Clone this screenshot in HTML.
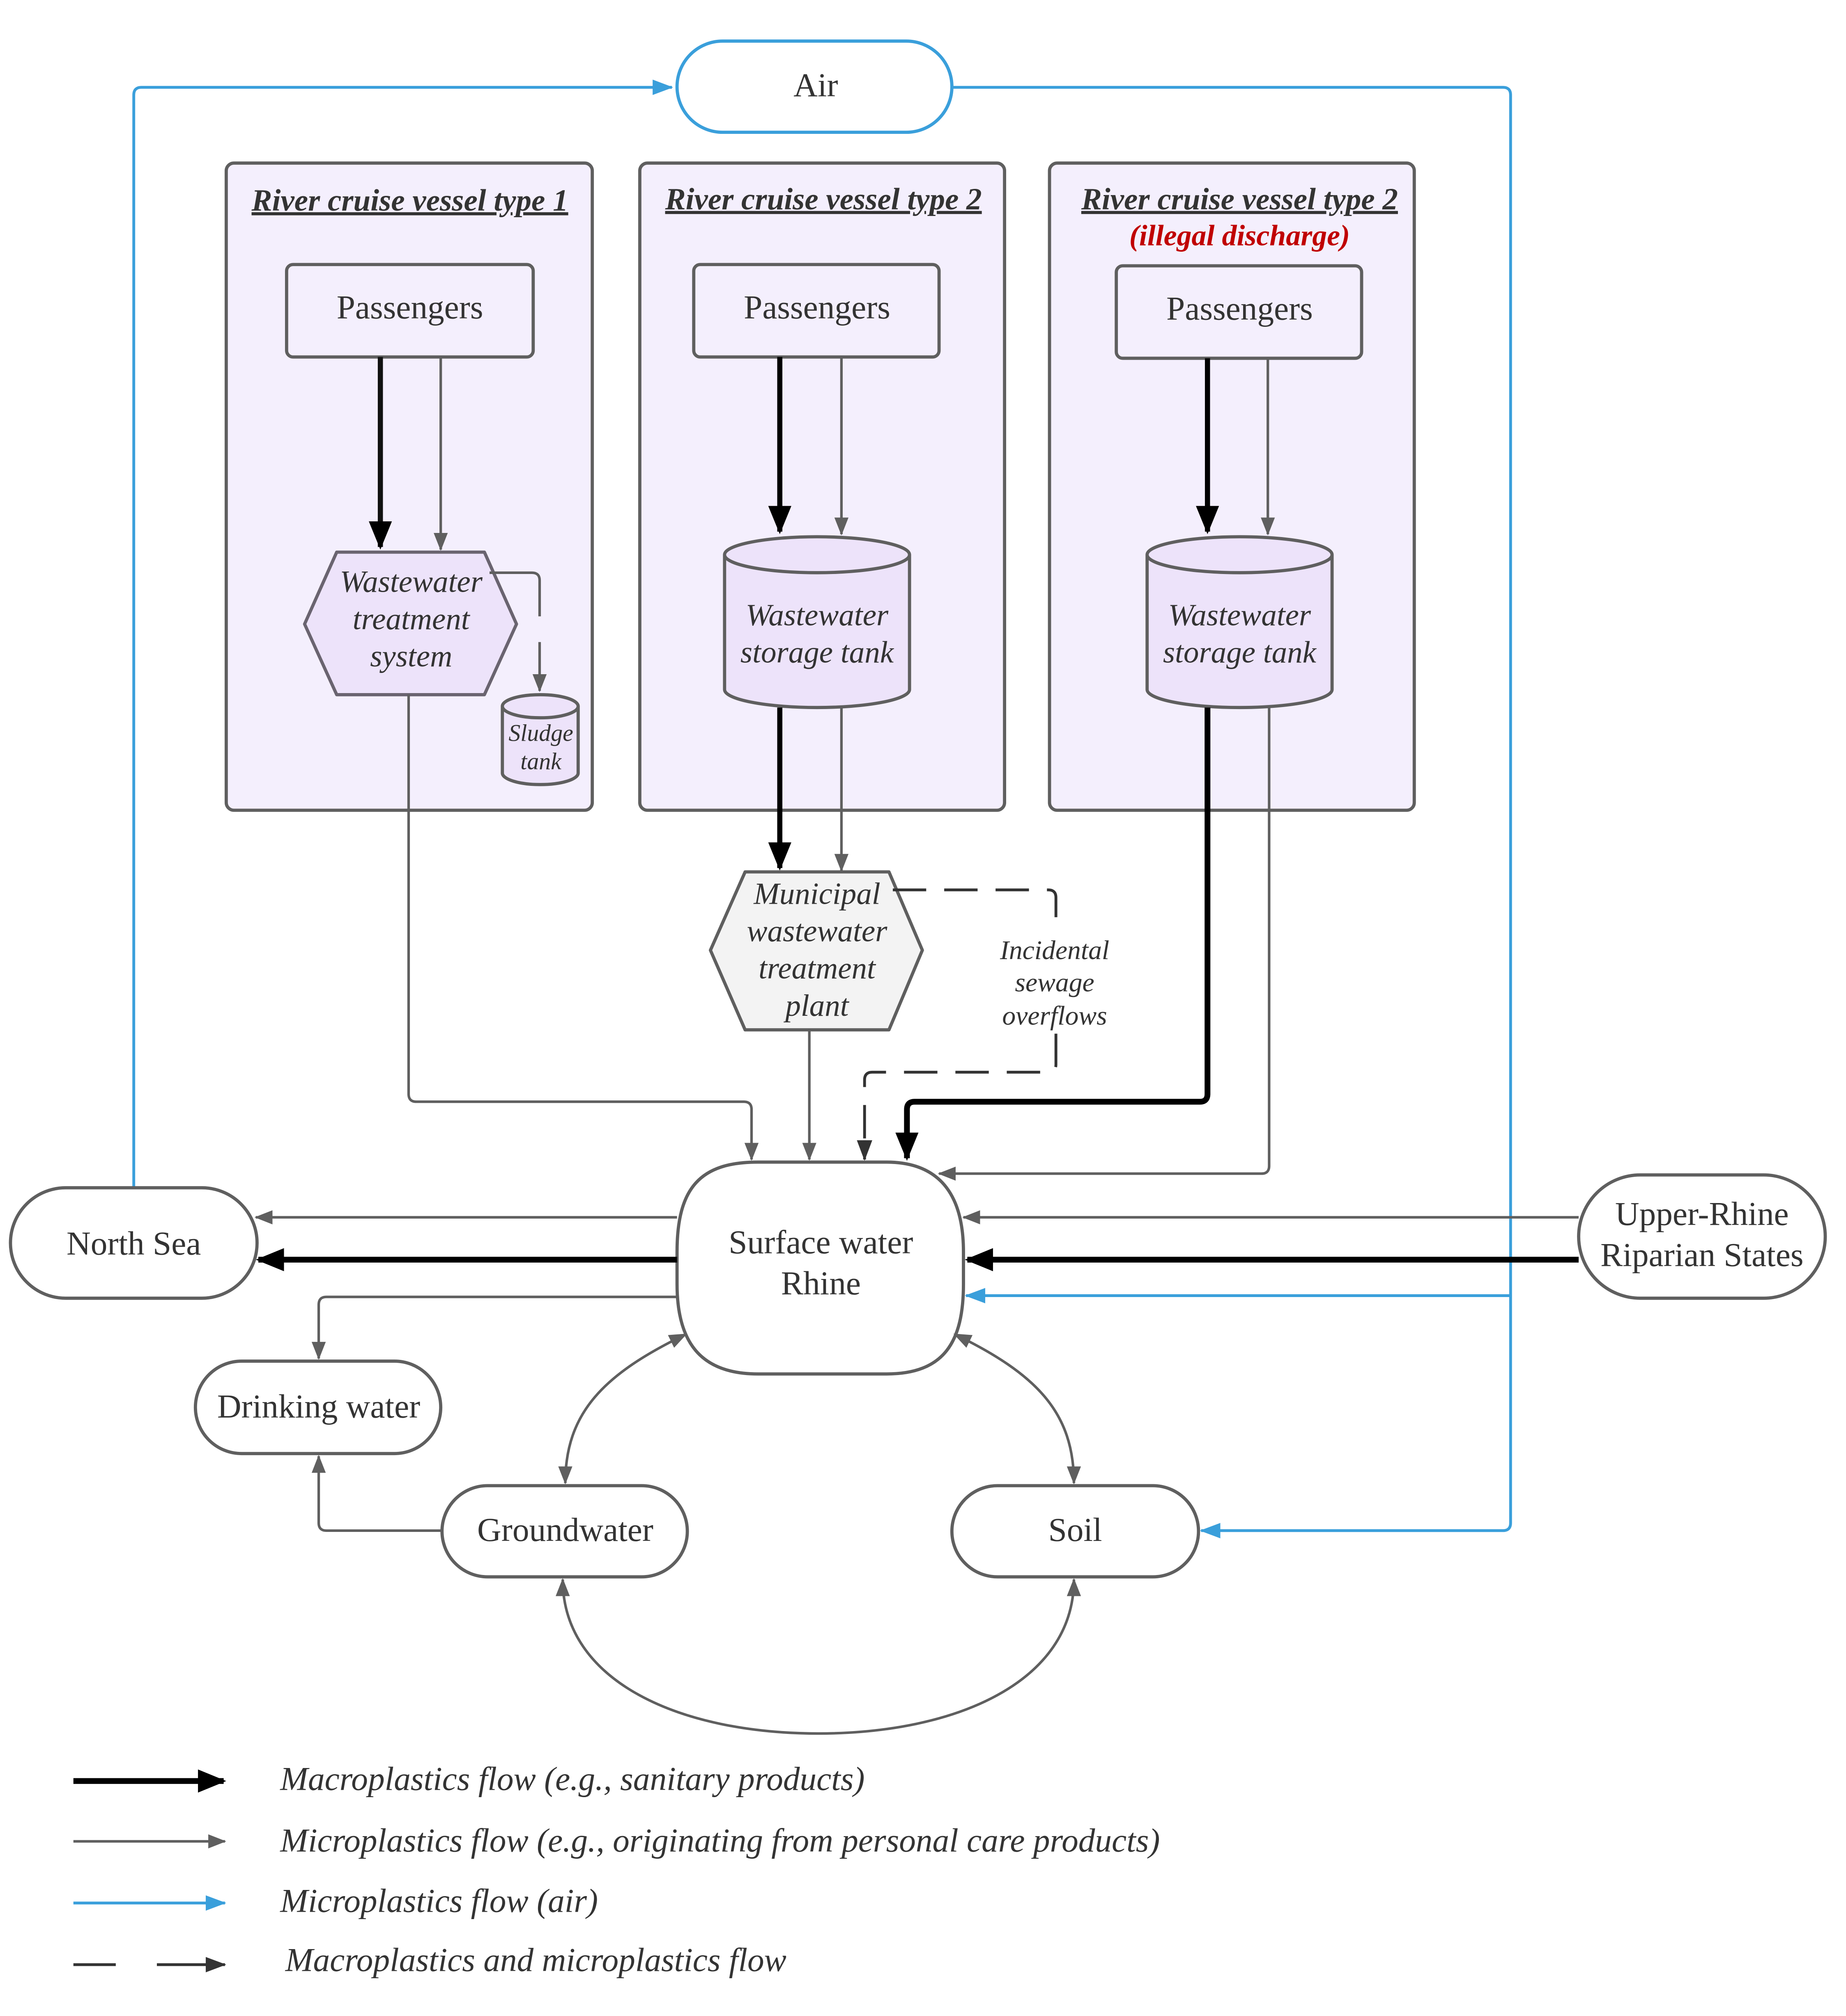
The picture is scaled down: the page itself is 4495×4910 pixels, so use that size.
<!DOCTYPE html>
<html><head><meta charset="utf-8"><style>html,body{margin:0;padding:0;background:#fff}svg{display:block}</style></head>
<body>
<svg width="4495" height="4910" viewBox="0 0 1437 1570" xmlns="http://www.w3.org/2000/svg" font-family="'Liberation Serif', serif">
<defs>
<marker id="ag" markerWidth="14" markerHeight="14" refX="13" refY="7" orient="auto-start-reverse" markerUnits="userSpaceOnUse" viewBox="0 0 14 14"><path d="M0,1.5 L14,7 L0,12.5z" fill="#5f5f5f"/></marker>
<marker id="ab" markerWidth="22" markerHeight="18" refX="20" refY="9" orient="auto" markerUnits="userSpaceOnUse" viewBox="0 0 22 18"><path d="M0,0 L22,9 L0,18z" fill="#000"/></marker>
<marker id="al" markerWidth="16" markerHeight="14" refX="15" refY="7" orient="auto" markerUnits="userSpaceOnUse" viewBox="0 0 16 14"><path d="M0,1 L16,7 L0,13z" fill="#3a9fdb"/></marker>
<marker id="ad" markerWidth="16" markerHeight="14" refX="15" refY="7" orient="auto" markerUnits="userSpaceOnUse" viewBox="0 0 16 14"><path d="M0,1 L16,7 L0,13z" fill="#333"/></marker>
</defs>
<g fill="none" stroke-linejoin="round">
<path d="M104,925 V74 Q104,68 110,68 H523" stroke="#3a9fdb" stroke-width="2.2" marker-end="url(#al)"/>
<path d="M741,68 H1170 Q1176,68 1176,74 V1186 Q1176,1192 1170,1192 H935" stroke="#3a9fdb" stroke-width="2.2" marker-end="url(#al)"/>
<path d="M1176,1009 H752" stroke="#3a9fdb" stroke-width="2.2" marker-end="url(#al)"/>
<rect x="176" y="127" width="285" height="504" rx="6" fill="#f4effd" stroke="#5f5f5f" stroke-width="2.5"/>
<rect x="498" y="127" width="284" height="504" rx="6" fill="#f4effd" stroke="#5f5f5f" stroke-width="2.5"/>
<rect x="817" y="127" width="284" height="504" rx="6" fill="#f4effd" stroke="#5f5f5f" stroke-width="2.5"/>
<rect x="223" y="206" width="192" height="72" rx="5" fill="#f4effd" stroke="#5f5f5f" stroke-width="2.5"/>
<rect x="540" y="206" width="191" height="72" rx="5" fill="#f4effd" stroke="#5f5f5f" stroke-width="2.5"/>
<rect x="869" y="207" width="191" height="72" rx="5" fill="#f4effd" stroke="#5f5f5f" stroke-width="2.5"/>
<path d="M296,278 V426" stroke="#111" stroke-width="4" marker-end="url(#ab)"/>
<path d="M343,278 V428" stroke="#5f5f5f" stroke-width="2" marker-end="url(#ag)"/>
<path d="M607,278 V414" stroke="#000" stroke-width="4" marker-end="url(#ab)"/>
<path d="M655,278 V416" stroke="#5f5f5f" stroke-width="2" marker-end="url(#ag)"/>
<path d="M940,279 V414" stroke="#000" stroke-width="4" marker-end="url(#ab)"/>
<path d="M987,279 V416" stroke="#5f5f5f" stroke-width="2" marker-end="url(#ag)"/>
<path d="M262,430 H377 L402,486 L377,541 H262 L237,486 Z" fill="#ede3fa" stroke="#6a6470" stroke-width="2.5"/>
<path d="M381,446 H414 Q420,446 420,452 V480 M420,500 V538" stroke="#5f5f5f" stroke-width="2" marker-end="url(#ag)"/>
<path d="M391,550 V602 A29.5,9 0 0 0 450,602 V550" fill="#ede3fa" stroke="#5f5f5f" stroke-width="2.5"/>
<ellipse cx="420.5" cy="550" rx="29.5" ry="9" fill="#ede3fa" stroke="#5f5f5f" stroke-width="2.5"/>
<path d="M564,432 V537 A72,14 0 0 0 708,537 V432" fill="#ede3fa" stroke="#5f5f5f" stroke-width="2.5"/>
<ellipse cx="636" cy="432" rx="72" ry="14" fill="#ede3fa" stroke="#5f5f5f" stroke-width="2.5"/>
<path d="M893,432 V537 A72,14 0 0 0 1037,537 V432" fill="#ede3fa" stroke="#5f5f5f" stroke-width="2.5"/>
<ellipse cx="965" cy="432" rx="72" ry="14" fill="#ede3fa" stroke="#5f5f5f" stroke-width="2.5"/>
<path d="M607,551 V676" stroke="#000" stroke-width="4" marker-end="url(#ab)"/>
<path d="M655,551 V678" stroke="#5f5f5f" stroke-width="2" marker-end="url(#ag)"/>
<path d="M580,679 H692 L718,740 L692,802 H580 L553,740 Z" fill="#f3f3f3" stroke="#5f5f5f" stroke-width="2.5"/>
<path d="M695,693 H816 Q822,693 822,699 V727 M822,805 V829 Q822,835 816,835 H679 Q673,835 673,841 V903" stroke="#333" stroke-width="2.2" stroke-dasharray="26,14" marker-end="url(#ad)"/>
<path d="M630,802 V903" stroke="#5f5f5f" stroke-width="2" marker-end="url(#ag)"/>
<path d="M318,541 V852 Q318,858 324,858 H579 Q585,858 585,864 V903" stroke="#5f5f5f" stroke-width="2" marker-end="url(#ag)"/>
<path d="M940,551 V852 Q940,858 934,858 H712 Q706,858 706,864 V902" stroke="#000" stroke-width="4.5" marker-end="url(#ab)"/>
<path d="M988,551 V908 Q988,914 982,914 H731" stroke="#5f5f5f" stroke-width="2" marker-end="url(#ag)"/>
<path d="M527,975 C527,925 545,905 590,905 H690 C735,905 750,935 750,975 V1000 C750,1045 735,1070 690,1070 H590 C545,1070 527,1045 527,1000 Z" fill="#fff" stroke="#5f5f5f" stroke-width="2.5"/>
<rect x="527" y="32" width="214" height="71" rx="35.5" fill="#fff" stroke="#3a9fdb" stroke-width="2.5"/>
<rect x="8" y="925" width="192" height="86" rx="43" fill="#fff" stroke="#5f5f5f" stroke-width="2.5"/>
<rect x="1229" y="915" width="192" height="96" rx="48" fill="#fff" stroke="#5f5f5f" stroke-width="2.5"/>
<rect x="152" y="1060" width="191" height="72" rx="36" fill="#fff" stroke="#5f5f5f" stroke-width="2.5"/>
<rect x="344" y="1157" width="191" height="71" rx="35.5" fill="#fff" stroke="#5f5f5f" stroke-width="2.5"/>
<rect x="741" y="1157" width="192" height="71" rx="35.5" fill="#fff" stroke="#5f5f5f" stroke-width="2.5"/>
<path d="M1229,948 H750" stroke="#5f5f5f" stroke-width="2" marker-end="url(#ag)"/>
<path d="M1229,981 H753" stroke="#000" stroke-width="4.5" marker-end="url(#ab)"/>
<path d="M527,948 H199" stroke="#5f5f5f" stroke-width="2" marker-end="url(#ag)"/>
<path d="M527,981 H201" stroke="#000" stroke-width="4.5" marker-end="url(#ab)"/>
<path d="M527,1010 H254 Q248,1010 248,1016 V1058" stroke="#5f5f5f" stroke-width="2" marker-end="url(#ag)"/>
<path d="M344,1192 H254 Q248,1192 248,1186 V1134" stroke="#5f5f5f" stroke-width="2" marker-end="url(#ag)"/>
<path d="M534,1039 C470,1070 440,1100 440,1155" stroke="#5f5f5f" stroke-width="2" marker-start="url(#ag)" marker-end="url(#ag)"/>
<path d="M743,1039 C807,1070 836,1100 836,1155" stroke="#5f5f5f" stroke-width="2" marker-start="url(#ag)" marker-end="url(#ag)"/>
<path d="M438,1230 C438,1310 530,1350 637,1350 C744,1350 836,1310 836,1230" stroke="#5f5f5f" stroke-width="2" marker-start="url(#ag)" marker-end="url(#ag)"/>
<path d="M57,1387 H174" stroke="#000" stroke-width="4.5" marker-end="url(#ab)"/>
<path d="M57,1434 H175" stroke="#5f5f5f" stroke-width="2" marker-end="url(#ag)"/>
<path d="M57,1482 H175" stroke="#3a9fdb" stroke-width="2.2" marker-end="url(#al)"/>
<path d="M57,1530 H90 M122,1530 H175" stroke="#333" stroke-width="2.2" marker-end="url(#ad)"/>
</g>
<g fill="#333" font-size="26" text-anchor="middle">
<text x="635" y="75">Air</text>
<text x="319" y="248">Passengers</text>
<text x="636" y="248">Passengers</text>
<text x="965" y="249">Passengers</text>
<text x="104" y="977">North Sea</text>
<text x="1325" y="954">Upper-Rhine</text>
<text x="1325" y="986">Riparian States</text>
<text x="639" y="976">Surface water</text>
<text x="639" y="1008">Rhine</text>
<text x="248" y="1104">Drinking water</text>
<text x="440" y="1200">Groundwater</text>
<text x="837" y="1200">Soil</text>
<g font-style="italic" font-size="24">
<text x="320" y="461">Wastewater</text><text x="320" y="490">treatment</text><text x="320" y="519">system</text>
<text x="636" y="487">Wastewater</text><text x="636" y="516">storage tank</text>
<text x="965" y="487">Wastewater</text><text x="965" y="516">storage tank</text>
<text x="636" y="704">Municipal</text><text x="636" y="733">wastewater</text><text x="636" y="762">treatment</text><text x="636" y="791">plant</text>
</g>
<g font-style="italic" font-size="18.5"><text x="421" y="577">Sludge</text><text x="421" y="599">tank</text></g>
<g font-style="italic" font-size="21"><text x="821" y="747">Incidental</text><text x="821" y="772">sewage</text><text x="821" y="798">overflows</text></g>
<g font-style="italic" font-weight="bold" font-size="24" text-decoration="underline">
<text x="319" y="164">River cruise vessel type 1</text>
<text x="641" y="163">River cruise vessel type 2</text>
<text x="965" y="163">River cruise vessel type 2</text>
</g>
<text x="965" y="191" font-style="italic" font-weight="bold" font-size="23" fill="#c00000">(illegal discharge)</text>
</g>
<g fill="#333" font-size="26" font-style="italic">
<text x="218" y="1394">Macroplastics flow (e.g., sanitary products)</text>
<text x="218" y="1442">Microplastics flow (e.g., originating from personal care products)</text>
<text x="218" y="1489">Microplastics flow (air)</text>
<text x="222" y="1535">Macroplastics and microplastics flow</text>
</g>
</svg>
</body></html>
